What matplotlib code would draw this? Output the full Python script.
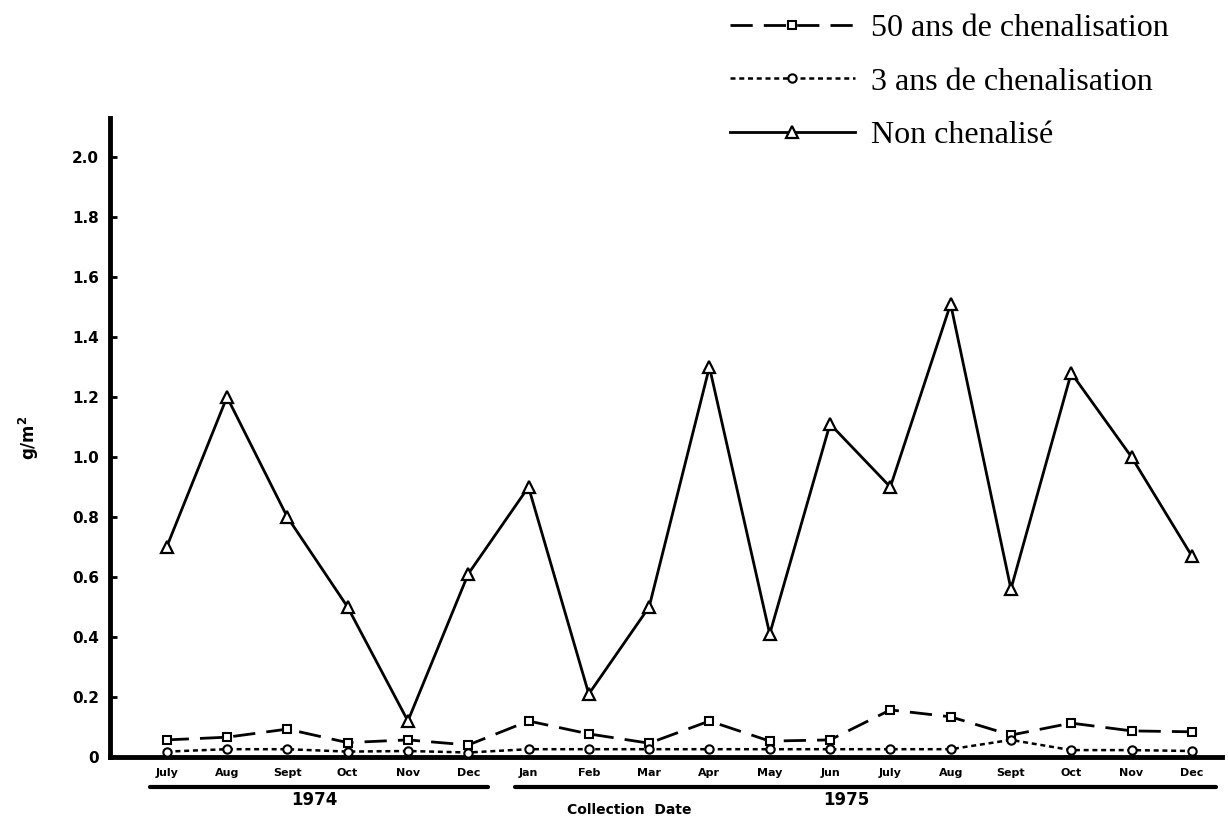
import numpy as np
import matplotlib.pyplot as plt
import matplotlib.transforms as mtransforms

months = ['July', 'Aug', 'Sept', 'Oct', 'Nov', 'Dec',
          'Jan', 'Feb', 'Mar', 'Apr', 'May', 'Jun',
          'July', 'Aug', 'Sept', 'Oct', 'Nov', 'Dec']

ans50 = [0.057, 0.066, 0.093, 0.048, 0.057, 0.040,
         0.120, 0.077, 0.046, 0.120, 0.053, 0.057,
         0.157, 0.134, 0.073, 0.113, 0.087, 0.084]

ans3 = [0.018, 0.026, 0.026, 0.018, 0.020, 0.015,
        0.026, 0.026, 0.026, 0.026, 0.026, 0.026,
        0.026, 0.026, 0.057, 0.023, 0.023, 0.020]

non_chen = [0.70, 1.20, 0.80, 0.50, 0.12, 0.61,
            0.90, 0.21, 0.50, 1.30, 0.41, 1.11,
            0.90, 1.51, 0.56, 1.28, 1.00, 0.67]

yticks = [0, 0.2, 0.4, 0.6, 0.8, 1.0, 1.2, 1.4, 1.6, 1.8, 2.0]
ylabels = ['0', '0.2', '0.4', '0.6', '0.8', '1.0', '1.2', '1.4', '1.6', '1.8', '2.0']

fig = plt.figure(figsize=(12.28, 8.25), dpi=100)
ax = fig.add_axes([110 / 1228, 1 - 757 / 825, 1112 / 1228, (757 - 118) / 825])

x = np.arange(len(months))

l50, = ax.plot(x, ans50, color='k', lw=2, ls=(0, (8, 4)),
               marker='s', ms=6, mfc='white', mec='k', mew=1.5, zorder=3,
               label='50 ans de chenalisation')
l3, = ax.plot(x, ans3, color='k', lw=1.8, ls=(0, (2, 1.5)),
              marker='o', ms=6, mfc='white', mec='k', mew=1.5, zorder=3,
              label='3 ans de chenalisation')
lnc, = ax.plot(x, non_chen, color='k', lw=2, ls='-',
               marker='^', ms=9, mfc='white', mec='k', mew=1.6, zorder=4,
               label='Non chenalisé')

ax.set_xlim(-0.94, 17.5)
ax.set_ylim(0, 2.13)

for s in ['top', 'right']:
    ax.spines[s].set_visible(False)
for s in ['left', 'bottom']:
    ax.spines[s].set_linewidth(3.5)

ax.set_yticks(yticks)
ax.set_yticklabels(ylabels, fontsize=11, fontweight='bold')
ax.tick_params(axis='y', direction='in', length=5, width=2, pad=8)
ax.set_xticks(x)
ax.set_xticklabels(months, fontsize=8, fontweight='bold')
ax.tick_params(axis='x', length=0, pad=8)

ax.set_ylabel('g/m$^\\mathbf{2}$', fontsize=12, fontweight='bold', labelpad=22)

# year underlines and labels below the month names
trans = mtransforms.blended_transform_factory(ax.transData, ax.transAxes)
ax.plot([-0.28, 5.32], [-0.047, -0.047], color='k', lw=3, transform=trans,
        clip_on=False, solid_capstyle='round')
ax.plot([5.77, 17.4], [-0.047, -0.047], color='k', lw=3, transform=trans,
        clip_on=False, solid_capstyle='round')
ax.text(2.45, -0.068, '1974', transform=trans, ha='center', va='center',
        fontsize=12, fontweight='bold')
ax.text(11.27, -0.068, '1975', transform=trans, ha='center', va='center',
        fontsize=12, fontweight='bold')
ax.text(7.67, -0.083, 'Collection  Date', transform=trans, ha='center',
        va='center', fontsize=10, fontweight='bold')

fig.legend(handles=[l50, l3, lnc], loc='upper left',
           bbox_to_anchor=(730 / 1228, 1 - 14 / 825), frameon=False,
           prop={'family': 'Liberation Serif', 'size': 23},
           handlelength=3.9, handletextpad=0.5, labelspacing=0.75,
           borderpad=0, borderaxespad=0)

fig.savefig('out.png', dpi=100)
